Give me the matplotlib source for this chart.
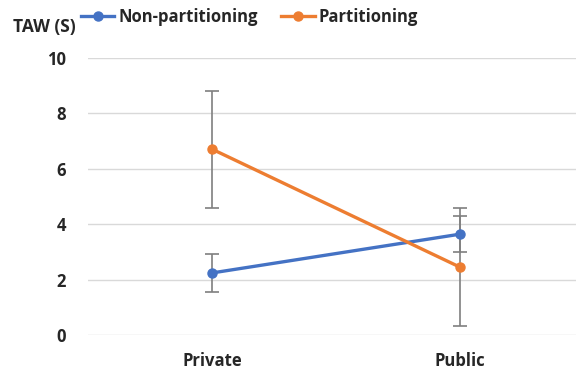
import matplotlib
matplotlib.use("Agg")
import matplotlib.pyplot as plt
import numpy as np

# dane
categories = ["Private", "Public"]
non_part = [2.24, 3.64]
non_part_err = [0.68, 0.66]
part = [6.71, 2.45]
part_err = [2.11, 2.12]

BLUE = "#4472C4"
ORANGE = "#ED7D31"
TEXT = "#262626"

plt.rcParams["font.family"] = ["Open Sans", "DejaVu Sans"]
plt.rcParams["font.weight"] = "bold"

fig = plt.figure(figsize=(5.76, 3.74), dpi=100)
ax = fig.add_axes([88 / 576, 1 - 335 / 374, 1 - 88 / 576, (335 - 58) / 374])

x = np.arange(len(categories))
for vals, errs, color, label in [(non_part, non_part_err, BLUE, "Non-partitioning"),
                                  (part, part_err, ORANGE, "Partitioning")]:
    ax.errorbar(x, vals, yerr=errs, fmt="none", ecolor="#7f7f7f", elinewidth=1.2,
                capsize=5, capthick=1.2, zorder=2)
    ax.plot(x, vals, color=color, lw=2.4, marker="o", ms=6.5, label=label, zorder=3)

ax.set_ylim(0, 10)
ax.set_yticks(range(0, 11, 2))
ax.set_xlim(-0.5, 1.468)
ax.set_xticks(x)
ax.set_xticklabels(categories)
ax.grid(axis="y", color="#d9d9d9", lw=1)
ax.set_axisbelow(True)
for s in ax.spines.values():
    s.set_visible(False)
ax.tick_params(length=0, labelsize=12, colors=TEXT)
ax.tick_params(axis="y", pad=16)
ax.tick_params(axis="x", pad=12)

fig.text(13 / 576, 1 - 27 / 374, "TAW (S)", fontsize=12.5, color=TEXT, va="center", ha="left")
fig.legend(loc="center left", bbox_to_anchor=(81 / 576, 1 - 17 / 374), ncol=2, frameon=False,
           fontsize=12, handlelength=2.0, handletextpad=0.25, columnspacing=1.4,
           labelcolor=TEXT, borderaxespad=0, borderpad=0)

fig.savefig("out.png", dpi=100)
